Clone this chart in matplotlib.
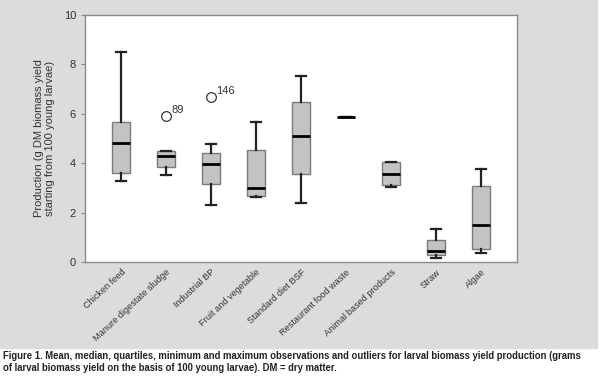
import matplotlib.pyplot as plt
from matplotlib.patches import Rectangle

plt.rcParams['font.family'] = ['Liberation Sans Narrow', 'DejaVu Sans Condensed', 'Liberation Sans', 'DejaVu Sans']

categories = ["Chicken feed", "Manure digestate sludge", "Industrial BP",
              "Fruit and vegetable", "Standard diet BSF", "Restaurant food waste",
              "Animal based products", "Straw", "Algae"]
whislo = [3.28, 3.52, 2.32, 2.64, 2.37, 5.88, 3.05, 0.17, 0.35]
q1 = [3.59, 3.86, 3.14, 2.69, 3.58, 5.88, 3.10, 0.28, 0.51]
med = [4.83, 4.29, 3.97, 3.01, 5.09, 5.88, 3.58, 0.46, 1.50]
q3 = [5.65, 4.50, 4.43, 4.53, 6.48, 5.88, 4.03, 0.89, 3.08]
whishi = [8.50, 4.50, 4.78, 5.67, 7.53, 5.88, 4.06, 1.35, 3.77]
fliers = [[], [5.92], [6.69], [], [], [], [], [], []]
flier_ids = [[], ["89"], ["146"], [], [], [], [], [], []]

fig = plt.figure(figsize=(6, 3.82), dpi=100)
fig.patch.set_facecolor("white")
fig.add_artist(Rectangle((0, 1 - 348 / 382), 597 / 600, 348 / 382,
                         transform=fig.transFigure, color="#dcdcdc", zorder=-10))

ax = fig.add_axes([85 / 600, 1 - 262 / 382, 432 / 600, 247 / 382])
ax.set_facecolor("white")

stats = []
for i, name in enumerate(categories):
    stats.append(dict(label=name, whislo=whislo[i], q1=q1[i], med=med[i],
                      q3=q3[i], whishi=whishi[i], fliers=fliers[i]))

pos = list(range(1, len(categories) + 1))
ax.bxp(stats, positions=pos, widths=0.42, capwidths=0.22, patch_artist=True,
       boxprops=dict(facecolor="#c3c3c3", edgecolor="#7a7a7a", linewidth=1),
       medianprops=dict(color="black", linewidth=2),
       whiskerprops=dict(color="#222222", linewidth=1.6),
       capprops=dict(color="#222222", linewidth=1.6),
       flierprops=dict(marker="o", markerfacecolor="white",
                       markeredgecolor="#333333", markersize=7, markeredgewidth=0.9))

for i, ids in enumerate(flier_ids):
    for v, t in zip(fliers[i], ids):
        ax.annotate(t, (pos[i], v), xytext=(4, 2), textcoords="offset points",
                    fontsize=8, color="#333333")

ax.set_xlim(0.2, 9.8)
ax.set_ylim(0, 10)
ax.set_yticks([0, 2, 4, 6, 8, 10])
ax.set_xticks(pos)
ax.set_xticklabels(categories, rotation=43, ha="right", rotation_mode="anchor",
                   fontsize=6.6, color="#333333")
ax.tick_params(axis="x", length=0, pad=4)
ax.tick_params(axis="y", length=3, color="#888888", labelsize=8, labelcolor="#333333")
for s in ax.spines.values():
    s.set_color("#8a8a8a")
    s.set_linewidth(1)
ax.set_ylabel("Production (g DM biomass yield\nstarting from 100 young larvae)",
              fontsize=8, color="#333333", labelpad=6)

fig.text(0.005, 1 - 362 / 382,
         "Figure 1. Mean, median, quartiles, minimum and maximum observations and outliers for larval biomass yield production (grams\n"
         "of larval biomass yield on the basis of 100 young larvae). DM = dry matter.",
         fontsize=6.85, fontweight="bold", color="#222222", va="center", linespacing=1.3)

fig.savefig("out.png", dpi=100)
